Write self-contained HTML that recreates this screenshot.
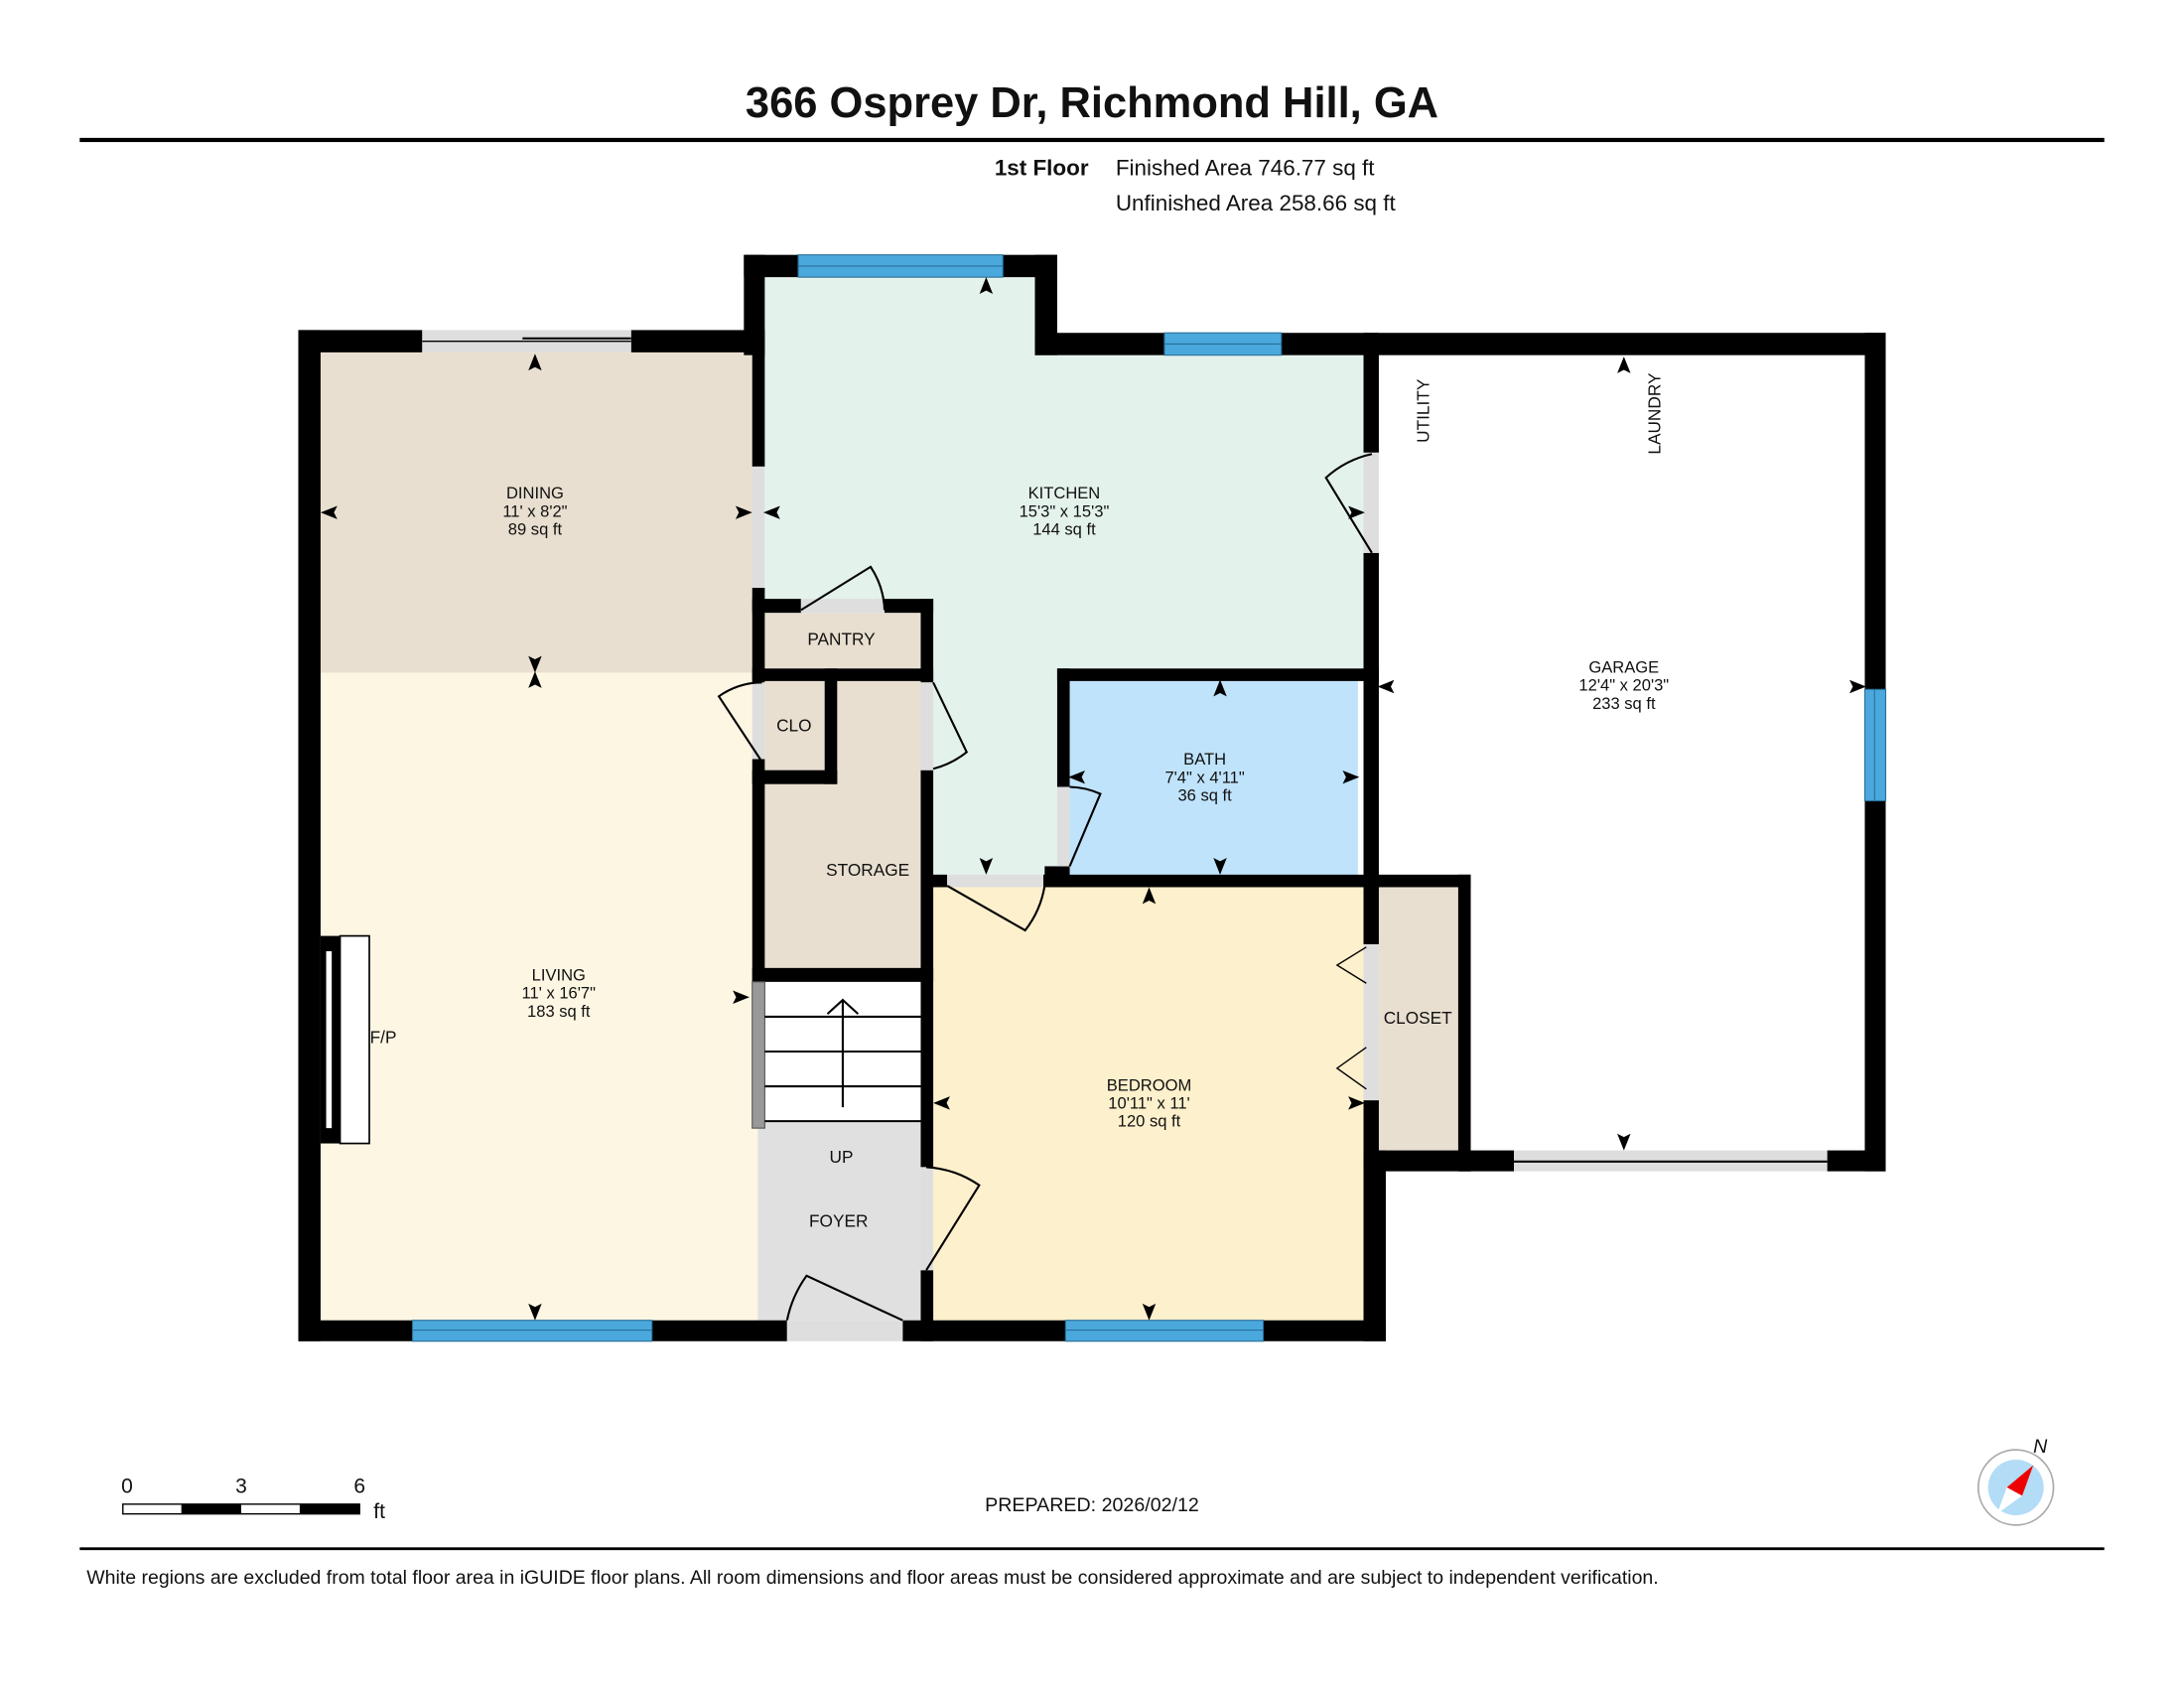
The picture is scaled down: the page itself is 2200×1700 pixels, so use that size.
<!DOCTYPE html>
<html><head><meta charset="utf-8"><style>
html,body{margin:0;padding:0;background:#fff;}
svg{display:block}
text{font-family:"Liberation Sans",sans-serif;fill:#111}
</style></head><body>
<svg width="2200" height="1700" viewBox="0 0 1568 1212" xmlns="http://www.w3.org/2000/svg">
<defs>
<path id="ar" d="M0,-8 L4.8,4 L0,1.6 L-4.8,4Z" fill="#000"/>
</defs>
<rect width="1568" height="1212" fill="#fff"/>
<text x="784" y="84" font-size="31" font-weight="bold" text-anchor="middle">366 Osprey Dr, Richmond Hill, GA</text>
<rect x="57" y="99" width="1454" height="3" fill="#000"/>
<text x="714" y="126" font-size="16" font-weight="bold">1st Floor</text>
<text x="801" y="126" font-size="16">Finished Area 746.77 sq ft</text>
<text x="801" y="151" font-size="16">Unfinished Area 258.66 sq ft</text>

<!-- fills -->
<rect x="230" y="253" width="312" height="230" fill="#e8dfd0"/>
<rect x="230" y="483" width="314" height="465" fill="#fdf6e3"/>
<path d="M549,199 H743 V255 H979 V480 H759 V628 H670 V440 H549Z" fill="#e4f2ec"/>
<rect x="768" y="489" width="207" height="139" fill="#bfe3fb"/>
<rect x="670" y="637" width="309" height="311" fill="#fdf0cc"/>
<rect x="990" y="255" width="349" height="571" fill="#fff"/>
<rect x="549" y="440" width="112" height="40" fill="#e8dfd0"/>
<rect x="549" y="489" width="43" height="64" fill="#e8dfd0"/>
<path d="M601,489 H661 V695 H549 V563 H601Z" fill="#e8dfd0"/>
<rect x="990" y="637" width="57" height="189" fill="#e8dfd0"/>
<rect x="549" y="705" width="112" height="100" fill="#fff"/>
<rect x="544" y="805" width="117" height="143" fill="#e0e0e0"/>

<!-- walls -->
<g fill="#000">
<rect x="214" y="237" width="16" height="726"/>
<rect x="214" y="237" width="89" height="16"/>
<rect x="453" y="237" width="96" height="16"/>
<rect x="534" y="183" width="15" height="72"/>
<rect x="540" y="253" width="9" height="82"/>
<rect x="540" y="422" width="9" height="68"/>
<rect x="540" y="545" width="9" height="160"/>
<rect x="534" y="183" width="39" height="16"/>
<rect x="720" y="183" width="39" height="16"/>
<rect x="743" y="183" width="16" height="72"/>
<rect x="743" y="239" width="93" height="16"/>
<rect x="920" y="239" width="434" height="16"/>
<rect x="979" y="239" width="11" height="86"/>
<rect x="979" y="397" width="11" height="240"/>
<rect x="1339" y="239" width="15" height="256"/>
<rect x="1339" y="575" width="15" height="266"/>
<rect x="1047" y="826" width="40" height="15"/>
<rect x="1312" y="826" width="42" height="15"/>
<rect x="979" y="628" width="77" height="9"/>
<rect x="1047" y="628" width="9" height="213"/>
<rect x="979" y="628" width="11" height="50"/>
<rect x="979" y="790" width="11" height="51"/>
<rect x="979" y="826" width="16" height="137"/>
<rect x="979" y="826" width="77" height="15"/>
<rect x="214" y="948" width="82" height="15"/>
<rect x="468" y="948" width="97" height="15"/>
<rect x="648" y="948" width="117" height="15"/>
<rect x="907" y="948" width="88" height="15"/>
<rect x="759" y="480" width="231" height="9"/>
<rect x="759" y="480" width="9" height="85"/>
<rect x="750" y="622" width="18" height="15"/>
<rect x="664" y="628" width="16" height="9"/>
<rect x="749" y="628" width="236" height="9"/>
<rect x="540" y="430" width="35" height="10"/>
<rect x="635" y="430" width="35" height="10"/>
<rect x="661" y="430" width="9" height="60"/>
<rect x="540" y="480" width="130" height="9"/>
<rect x="592" y="480" width="9" height="83"/>
<rect x="540" y="553" width="61" height="10"/>
<rect x="661" y="553" width="9" height="285"/>
<rect x="661" y="912" width="9" height="51"/>
<rect x="540" y="695" width="130" height="10"/>
</g>

<!-- doors (gray openings) -->
<g fill="#dedede">
<rect x="303" y="237" width="150" height="16"/>
<rect x="1087" y="826" width="225" height="15"/>
<rect x="540" y="335" width="9" height="87"/>
<rect x="979" y="325" width="11" height="72"/>
<rect x="979" y="678" width="11" height="112"/>
<rect x="575" y="430" width="60" height="10"/>
<rect x="540" y="490" width="9" height="55"/>
<rect x="661" y="490" width="9" height="63"/>
<rect x="759" y="565" width="9" height="57"/>
<rect x="680" y="628" width="69" height="9"/>
<rect x="661" y="838" width="9" height="74"/>
<rect x="565" y="948" width="83" height="15"/>
</g>
<g stroke="#000" stroke-width="1.5" fill="none">
<line x1="303" y1="245" x2="453" y2="245" stroke-width="1"/>
<line x1="375" y1="243" x2="453" y2="243"/>
<line x1="1087" y1="834" x2="1312" y2="834"/>
<path d="M575,438 L625,407 A60,60 0 0 1 635,438"/>
<path d="M547,547 L516,500 A55,55 0 0 1 547,490"/>
<path d="M670,490 L694,540 A63,63 0 0 1 670,552"/>
<path d="M985,397 L952,343 A72,72 0 0 1 985,326"/>
<path d="M768,622 L790,570 A57,57 0 0 0 768,565"/>
<path d="M680,636 L736,668 A70,70 0 0 0 750,636"/>
<path d="M665,912 L703,851 A74,74 0 0 0 665,838"/>
<path d="M648,948 L579,916 A83,83 0 0 0 565,948"/>
<path d="M981,680 L960,693 L981,706" stroke-width="1"/>
<path d="M981,752 L960,767 L981,782" stroke-width="1"/>
</g>

<!-- windows -->
<g fill="#4aa8dc" stroke="#2a6f9a" stroke-width="0.8">
<rect x="573" y="183" width="147" height="16"/>
<rect x="836" y="239" width="84" height="16"/>
<rect x="1339" y="495" width="15" height="80"/>
<rect x="296" y="948" width="172" height="15"/>
<rect x="765" y="948" width="142" height="15"/>
</g>
<g stroke="#2a6f9a" stroke-width="0.8">
<line x1="573" y1="191" x2="720" y2="191"/>
<line x1="836" y1="247" x2="920" y2="247"/>
<line x1="1346" y1="495" x2="1346" y2="575"/>
<line x1="296" y1="955" x2="468" y2="955"/>
<line x1="765" y1="955" x2="907" y2="955"/>
</g>

<!-- stairs -->
<rect x="540" y="705" width="9" height="105" fill="#999" stroke="#555" stroke-width="0.8"/>
<g stroke="#000" stroke-width="1.5">
<line x1="549" y1="730" x2="661" y2="730"/>
<line x1="549" y1="755" x2="661" y2="755"/>
<line x1="549" y1="780" x2="661" y2="780"/>
<line x1="549" y1="805" x2="661" y2="805"/>
<line x1="605" y1="795" x2="605" y2="718"/>
<path d="M594,728 L605,718 L616,728" fill="none"/>
</g>

<!-- fireplace -->
<rect x="244" y="672" width="21" height="149" fill="#fff" stroke="#000" stroke-width="1.2"/>
<rect x="230" y="672" width="14" height="149" fill="#000"/>
<rect x="234" y="683" width="4" height="127" fill="#fff"/>

<!-- arrows -->
<g>
<use href="#ar" transform="translate(384,262)"/>
<use href="#ar" transform="translate(238,368) rotate(-90)"/>
<use href="#ar" transform="translate(532,368) rotate(90)"/>
<use href="#ar" transform="translate(384,475) rotate(180)"/>
<use href="#ar" transform="translate(384,490)"/>
<use href="#ar" transform="translate(530,716) rotate(90)"/>
<use href="#ar" transform="translate(384,940) rotate(180)"/>
<use href="#ar" transform="translate(708,207)"/>
<use href="#ar" transform="translate(556,368) rotate(-90)"/>
<use href="#ar" transform="translate(972,368) rotate(90)"/>
<use href="#ar" transform="translate(708,620) rotate(180)"/>
<use href="#ar" transform="translate(876,496)"/>
<use href="#ar" transform="translate(775,558) rotate(-90)"/>
<use href="#ar" transform="translate(968,558) rotate(90)"/>
<use href="#ar" transform="translate(876,620) rotate(180)"/>
<use href="#ar" transform="translate(825,645)"/>
<use href="#ar" transform="translate(678,792) rotate(-90)"/>
<use href="#ar" transform="translate(972,792) rotate(90)"/>
<use href="#ar" transform="translate(825,940) rotate(180)"/>
<use href="#ar" transform="translate(1166,264)"/>
<use href="#ar" transform="translate(997,493) rotate(-90)"/>
<use href="#ar" transform="translate(1332,493) rotate(90)"/>
<use href="#ar" transform="translate(1166,818) rotate(180)"/>
</g>

<!-- labels -->
<g font-size="11.8" text-anchor="middle">
<text x="384" y="358">DINING</text><text x="384" y="371">11' x 8'2"</text><text x="384" y="384">89 sq ft</text>
<text x="764" y="358">KITCHEN</text><text x="764" y="371">15'3" x 15'3"</text><text x="764" y="384">144 sq ft</text>
<text x="401" y="704">LIVING</text><text x="401" y="717">11' x 16'7"</text><text x="401" y="730">183 sq ft</text>
<text x="865" y="549">BATH</text><text x="865" y="562">7'4" x 4'11"</text><text x="865" y="575">36 sq ft</text>
<text x="825" y="783">BEDROOM</text><text x="825" y="796">10'11" x 11'</text><text x="825" y="809">120 sq ft</text>
<text x="1166" y="483">GARAGE</text><text x="1166" y="496">12'4" x 20'3"</text><text x="1166" y="509">233 sq ft</text>
<text x="604" y="463" font-size="12.3">PANTRY</text>
<text x="570" y="525" font-size="12.3">CLO</text>
<text x="623" y="629" font-size="12.3">STORAGE</text>
<text x="275" y="749" font-size="12.3">F/P</text>
<text x="604" y="835" font-size="12.3">UP</text>
<text x="602" y="881" font-size="12.3">FOYER</text>
<text x="1018" y="735" font-size="12.3">CLOSET</text>
<text transform="translate(1026,295) rotate(-90)" font-size="12.3">UTILITY</text>
<text transform="translate(1192,297) rotate(-90)" font-size="12.3">LAUNDRY</text>
</g>

<!-- scale bar -->
<g font-size="15">
<text x="91" y="1072" text-anchor="middle">0</text>
<text x="173" y="1072" text-anchor="middle">3</text>
<text x="258" y="1072" text-anchor="middle">6</text>
<text x="268" y="1090">ft</text>
</g>
<rect x="88" y="1080" width="170" height="7" fill="#fff" stroke="#000" stroke-width="1"/>
<rect x="130" y="1080" width="43" height="7" fill="#000"/>
<rect x="215" y="1080" width="43" height="7" fill="#000"/>
<text x="784" y="1085" font-size="14" text-anchor="middle">PREPARED: 2026/02/12</text>

<!-- compass -->
<circle cx="1447.5" cy="1068" r="27" fill="#fff" stroke="#aaa" stroke-width="1.2"/>
<circle cx="1447.5" cy="1068" r="20" fill="#b3dcf6"/>
<path d="M1460,1052 L1441,1068 L1452,1074Z" fill="#e00"/>
<path d="M1441,1068 L1452,1074 L1434,1087Z" fill="#fff"/>
<text x="1465" y="1043" font-size="14" font-style="italic" text-anchor="middle">N</text>

<rect x="57" y="1111" width="1454" height="2" fill="#000"/>
<text x="62" y="1137" font-size="13.9">White regions are excluded from total floor area in iGUIDE floor plans. All room dimensions and floor areas must be considered approximate and are subject to independent verification.</text>
</svg>
</body></html>
